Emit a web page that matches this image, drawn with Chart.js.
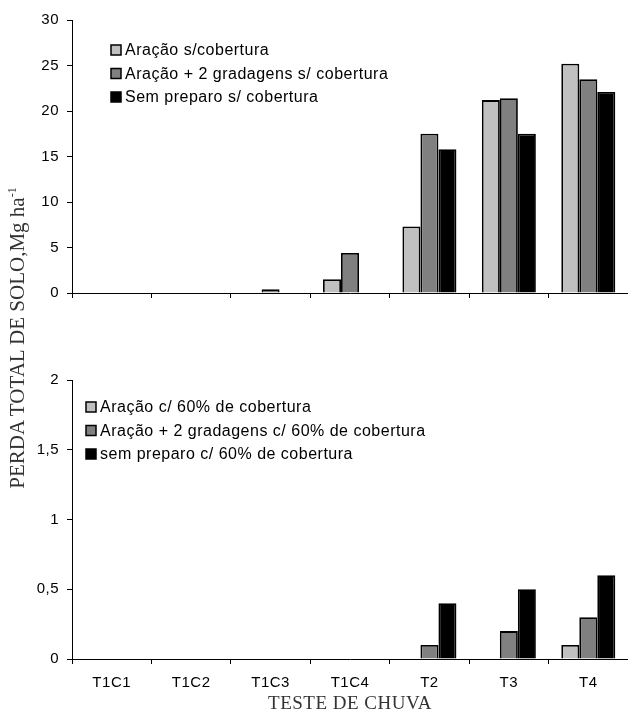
<!DOCTYPE html>
<html>
<head>
<meta charset="utf-8">
<script src="https://cdn.jsdelivr.net/npm/chart.js@4.4.0/dist/chart.umd.min.js"></script>
<style>
  body { margin: 0; background: #fff; }
  #wrap { position: relative; width: 628px; height: 722px; overflow: hidden; }
  #topChart { position: absolute; left: 0; top: 0; }
  #bottomChart { position: absolute; left: 0; top: 360px; }
  #ytitle {
    position: absolute; left: -183px; top: 326px; width: 400px; height: 24px;
    line-height: 24px; text-align: center; white-space: nowrap;
    transform: rotate(-90deg);
    font: 21px "Liberation Serif", "Times New Roman", serif; color: #333;
  }
  #ytitle sup { font-size: 12px; line-height: 0; }
</style>
</head>
<body>
<div id="wrap">
  <canvas id="topChart" width="628" height="310"></canvas>
  <canvas id="bottomChart" width="628" height="362"></canvas>
  <div id="ytitle">PERDA TOTAL DE SOLO,Mg ha<sup>-1</sup></div>
</div>
<script>
var categories = ['T1C1', 'T1C2', 'T1C3', 'T1C4', 'T2', 'T3', 'T4'];

// sem cobertura (painel de cima)
var labelsTop = ['Aração s/cobertura', 'Aração + 2 gradagens s/ cobertura', 'Sem preparo s/ cobertura'];
var aracaoSemCob = [0, 0, 0, 1.5, 7.3, 21.2, 25.2];
var gradagemSemCob = [0, 0, 0.4, 4.4, 17.5, 21.4, 23.5];
var semPreparoSemCob = [0, 0, 0, 0, 15.8, 17.5, 22.1];

// com 60% de cobertura (painel de baixo)
var labelsBottom = ['Aração c/ 60% de cobertura', 'Aração + 2 gradagens c/ 60% de cobertura', 'sem preparo c/ 60% de cobertura'];
var aracaoCob = [0, 0, 0, 0, 0, 0, 0.1];
var gradagemCob = [0, 0, 0, 0, 0.1, 0.2, 0.3];
var semPreparoCob = [0, 0, 0, 0, 0.4, 0.5, 0.6];

var topMax = 30, topStep = 5;
var bottomMax = 2, bottomStep = 0.5;

var colors = ['#c0c0c0', '#808080', '#000000'];

Chart.defaults.font.family = '"Liberation Sans", Arial, sans-serif';
Chart.defaults.font.size = 15;
Chart.defaults.color = '#000';

var spacing = {
    id: 'spacing',
    beforeUpdate: function (chart) { chart.ctx.letterSpacing = '0.5px'; },
    beforeDraw: function (chart) { chart.ctx.letterSpacing = '0.5px'; }
};

var boxLegend = {
    id: 'boxLegend',
    afterDraw: function (chart, args, opts) {
        var ctx = chart.ctx;
        ctx.save();
        ctx.font = '16px "Liberation Sans", Arial, sans-serif';
        ctx.letterSpacing = '0.5px';
        ctx.textBaseline = 'middle';
        chart.data.datasets.forEach(function (ds, i) {
            var y = opts.y + i * opts.step;
            ctx.fillStyle = ds.backgroundColor;
            ctx.fillRect(opts.x, y - 5, 10, 10);
            ctx.strokeStyle = '#000';
            ctx.lineWidth = 1.5;
            ctx.strokeRect(opts.x, y - 5, 10, 10);
            ctx.fillStyle = '#000';
            ctx.fillText(ds.label, opts.x + 14, y + 1);
        });
        ctx.restore();
    }
};

function makeSets(labels, series) {
    return series.map(function (s, i) {
        return {
            label: labels[i],
            data: s,
            backgroundColor: colors[i],
            borderColor: '#000',
            borderWidth: 1.8,
            categoryPercentage: 0.68,
            barPercentage: 1
        };
    });
}

function makeChart(id, sets, yMax, yStep, isBottom, legendPos) {
    return new Chart(document.getElementById(id), {
        type: 'bar',
        data: { labels: categories, datasets: sets },
        plugins: [spacing, boxLegend],
        options: {
            responsive: false,
            animation: false,
            devicePixelRatio: 1,
            layout: { padding: { top: 20, right: 0, bottom: 0, left: 0 } },
            plugins: {
                legend: { display: false },
                tooltip: { enabled: false },
                boxLegend: legendPos
            },
            scales: {
                x: {
                    grid: { drawOnChartArea: false, drawTicks: true, tickLength: 5, color: '#000', offset: true },
                    border: { color: '#000', width: 1 },
                    ticks: { display: isBottom, padding: 10, maxRotation: 0 },
                    title: {
                        display: isBottom,
                        text: 'TESTE DE CHUVA',
                        color: '#333',
                        font: { family: '"Liberation Serif", "Times New Roman", serif', size: 19 },
                        padding: { top: 0, bottom: 7 }
                    },
                    afterFit: function (s) { s.height = isBottom ? 63 : 15; }
                },
                y: {
                    min: 0,
                    max: yMax,
                    grid: { drawOnChartArea: false, drawTicks: true, tickLength: 5, color: '#000' },
                    border: { color: '#000', width: 1 },
                    ticks: {
                        stepSize: yStep,
                        padding: 8,
                        callback: function (v) { return String(v).replace('.', ','); }
                    },
                    afterFit: function (s) { s.width = 72; }
                }
            }
        }
    });
}

makeChart('topChart', makeSets(labelsTop, [aracaoSemCob, gradagemSemCob, semPreparoSemCob]),
    topMax, topStep, false, { x: 111, y: 50, step: 23.5 });
makeChart('bottomChart', makeSets(labelsBottom, [aracaoCob, gradagemCob, semPreparoCob]),
    bottomMax, bottomStep, true, { x: 86, y: 47, step: 23.5 });
</script>
</body>
</html>
